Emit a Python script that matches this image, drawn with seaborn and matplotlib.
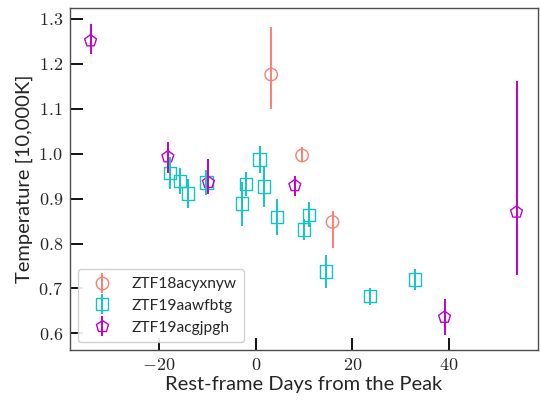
import matplotlib
matplotlib.use("Agg")
import matplotlib.pyplot as plt
from matplotlib.lines import Line2D
from matplotlib.ticker import FormatStrFormatter, MultipleLocator
import seaborn as sns

# ZTF18acyxnyw
x_18acy = [3.2, 9.6, 15.9]
t_18acy = [1.176, 0.996, 0.848]
lo_18acy = [0.076, 0.015, 0.058]
hi_18acy = [0.106, 0.019, 0.024]

# ZTF19aawfbtg
x_19aaw = [-17.7, -15.7, -14.0, -10.2, -2.8, -2.0, 0.8, 1.7, 4.4, 10.0, 11.0, 14.6, 23.7, 33.0]
t_19aaw = [0.957, 0.939, 0.911, 0.936, 0.889, 0.933, 0.987, 0.927, 0.859, 0.831, 0.864, 0.738, 0.683, 0.720]
e_19aaw = [0.035, 0.028, 0.032, 0.027, 0.049, 0.027, 0.031, 0.046, 0.041, 0.023, 0.028, 0.037, 0.019, 0.023]

# ZTF19acgjpgh
x_19acg = [-34.2, -18.2, -9.8, 8.1, 39.1, 54.0]
t_19acg = [1.251, 0.993, 0.936, 0.929, 0.636, 0.870]
lo_19acg = [0.030, 0.035, 0.025, 0.024, 0.039, 0.139]
hi_19acg = [0.037, 0.034, 0.051, 0.022, 0.041, 0.292]

series = [
    ("ZTF18acyxnyw", x_18acy, t_18acy, [lo_18acy, hi_18acy], "o", "#fa8072"),
    ("ZTF19aawfbtg", x_19aaw, t_19aaw, [e_19aaw, e_19aaw], "s", "#14c4c4"),
    ("ZTF19acgjpgh", x_19acg, t_19acg, [lo_19acg, hi_19acg], "p", "#c000c8"),
]

sns.set_theme(style="ticks")
plt.rcParams["font.family"] = ["Lato", "DejaVu Sans"]
plt.rcParams["mathtext.fontset"] = "cm"

fig, ax = plt.subplots(figsize=(5.41, 4.01), dpi=100)
fig.subplots_adjust(left=0.129, right=0.994, top=0.980, bottom=0.127)

handles = []
for name, xs, ts, err, mk, col in series:
    sns.scatterplot(x=xs, y=ts, marker=mk, s=80, facecolor="none",
                    edgecolor=col, color=col, linewidth=1.0, ax=ax, zorder=2)
    ax.errorbar(xs, ts, yerr=err, fmt="none", ecolor=col, elinewidth=1.4,
                capsize=0, zorder=3)
    h_mark = Line2D([], [], ls="none", marker=mk, ms=9, mfc="none",
                    mec=col, mew=1.0)
    h_bar = Line2D([], [], ls="none", marker="|", ms=14, mec=col, mew=1.4)
    handles.append((h_mark, h_bar))

ax.set_xlim(-38.5, 58.4)
ax.set_ylim(0.563, 1.324)
ax.xaxis.set_major_locator(MultipleLocator(20))
ax.yaxis.set_major_locator(MultipleLocator(0.1))
ax.xaxis.set_major_formatter(FormatStrFormatter("$%d$"))
ax.yaxis.set_major_formatter(FormatStrFormatter("$%.1f$"))
ax.tick_params(axis="both", direction="in", length=9, width=1.3,
               color="black", labelsize=13, pad=5)

for sp in ax.spines.values():
    sp.set_color("0.3")
    sp.set_linewidth(1.0)

ax.set_xlabel("Rest-frame Days from the Peak", fontsize=14.5, labelpad=2)
ax.set_ylabel("Temperature [10,000K]", fontsize=14.5, labelpad=4)

ax.legend(handles, [s[0] for s in series], loc="lower left",
          fontsize=11.2, frameon=True, edgecolor="0.8", framealpha=0.9,
          handlelength=2.2, handletextpad=0.75, borderpad=0.5,
          labelspacing=0.5)

fig.savefig("out.png", dpi=100)
